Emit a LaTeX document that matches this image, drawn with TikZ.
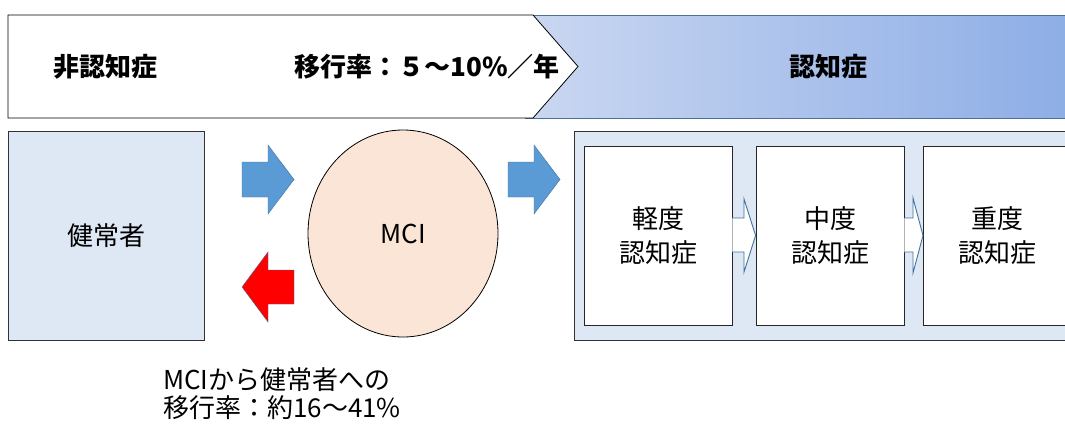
\documentclass[tikz,border=0pt]{standalone}
\usepackage{fontspec}
\setmainfont{Noto Sans CJK JP}
\usetikzlibrary{shapes.geometric}
\definecolor{boxfill}{HTML}{DEE8F4}
\definecolor{arrowblue}{HTML}{5B9BD5}
\definecolor{arrowline}{HTML}{41719C}
\definecolor{ellfill}{HTML}{FBE5D6}
\definecolor{gradL}{HTML}{CAD7F1}
\definecolor{gradR}{HTML}{8DADE6}
\definecolor{bandline}{HTML}{4F6F95}
\begin{document}
\begin{tikzpicture}[x=1pt,y=-1pt,
  hdr/.style={font=\fontsize{26}{30}\selectfont\bfseries, inner sep=0},
  txt/.style={font=\fontsize{26}{34}\selectfont, align=center, inner sep=0},
  panel/.style={draw=black!80, line width=0.8pt, fill=boxfill},
  stagebox/.style={draw=black!85, line width=0.8pt, fill=white},
  bigarrow/.style={fill=arrowblue, draw=arrowline, line width=0.4pt},
  backarrow/.style={fill=red, draw=arrowline, line width=0.4pt},
  hollow/.style={fill=white, draw=arrowline, line width=0.9pt}]
\useasboundingbox (0,0) rectangle (1065,423);
% top band
\fill[left color=gradL, right color=gradR] (525,15) rectangle (1075,118);
\draw[bandline, line width=1pt] (525,15) -- (1075,15) (525,118) -- (1075,118);
\draw[fill=white, line width=0.8pt] (8,15) -- (533,15) -- (578,66.5) -- (533,118) -- (8,118) -- cycle;
\node[hdr] (t1) at (105,66.5) {非認知症};
\node[hdr, anchor=east] (t2) at (560,66.5) {移行率：５～10\%／年};
\node[hdr] (t3) at (828,66.5) {認知症};
% healthy
\node[panel, minimum width=196, minimum height=209, txt] (h) at (106,235.5) {健常者};
% MCI
\node[ellipse, draw=black, line width=0.8pt, fill=ellfill, minimum width=190, minimum height=207, txt] (m) at (403,233.5) {MCI};
% fat arrows
\begin{scope}[shift={(242,179.5)}]
\draw[bigarrow] (0,-17.5) -- (26,-17.5) -- (26,-34.5) -- (52,0) -- (26,34.5) -- (26,17.5) -- (0,17.5) -- cycle;
\end{scope}
\begin{scope}[shift={(508,179.5)}]
\draw[bigarrow] (0,-17.5) -- (26,-17.5) -- (26,-34.5) -- (52,0) -- (26,34.5) -- (26,17.5) -- (0,17.5) -- cycle;
\end{scope}
\begin{scope}[shift={(294,287)}]
\draw[backarrow] (0,-17) -- (-26,-17) -- (-26,-35) -- (-52,0) -- (-26,35) -- (-26,17) -- (0,17) -- cycle;
\end{scope}
% dementia container
\draw[panel] (574,131) rectangle (1075,340);
\node[stagebox, minimum width=148, minimum height=179, txt] (s1) at (658,235.5) {軽度\\認知症};
\node[stagebox, minimum width=148, minimum height=179, txt] (s2) at (830,235.5) {中度\\認知症};
\node[stagebox, minimum width=148, minimum height=179, anchor=west] (s3) at (923,235.5) {};
\node[txt] (s3t) at (997,235.5) {重度\\認知症};
% hollow arrows
\draw[hollow] (s1.east |- 0,218) -- (744,218) -- (744,199) -- (s2.west) -- (744,272) -- (744,252) -- (s1.east |- 0,252);
\draw[hollow] (s2.east |- 0,218) -- (913,218) -- (913,198) -- (s3.west) -- (913,273) -- (913,252) -- (s2.east |- 0,252);
% bottom note
\node[font=\fontsize{26}{28}\selectfont, align=left, anchor=north west, inner sep=0] (note) at (163,367) {MCIから健常者への\\移行率：約16～41\%};
\end{tikzpicture}
\end{document}
